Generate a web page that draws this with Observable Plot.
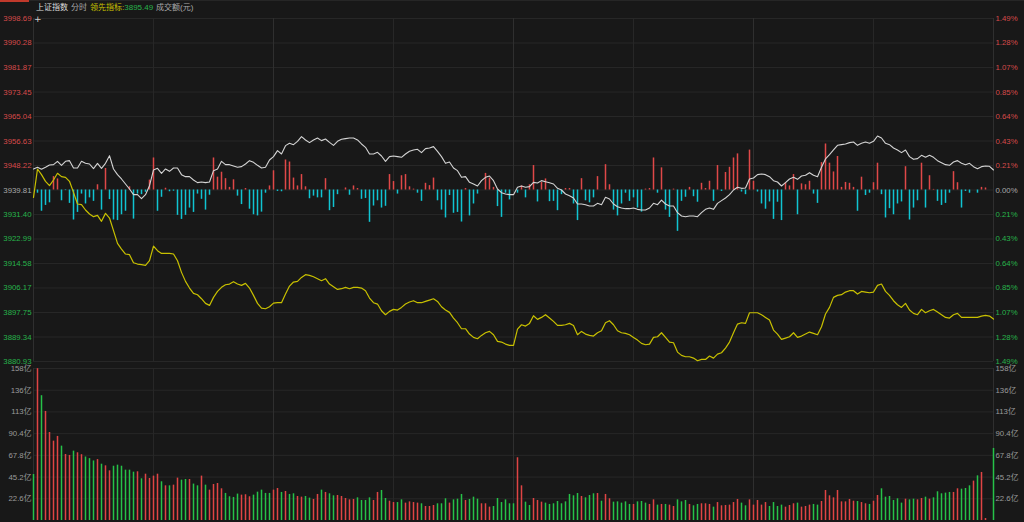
<!DOCTYPE html>
<html><head><meta charset="utf-8">
<script src="https://cdn.jsdelivr.net/npm/d3@7"></script>
<script src="https://cdn.jsdelivr.net/npm/@observablehq/plot@0.6"></script>
<style>
html,body{margin:0;padding:0;background:#181818;}
#root{position:relative;width:1024px;height:522px;overflow:hidden;background:#181818;font-family:"Liberation Sans",Arial,"Noto Sans CJK SC",sans-serif;}
#hdr span{position:absolute;top:3px;font-size:8px;line-height:10px;white-space:nowrap;}
#up{position:absolute;left:0;top:0;}
#down{position:absolute;left:0;top:362px;}
#up svg,#down svg{display:block;overflow:visible;}
</style></head><body>
<div id="root">
<div style="position:absolute;left:0;top:0;width:29px;height:2px;background:#c0392b"></div>
<div style="position:absolute;left:29px;top:0;width:995px;height:1px;background:#262626"></div>
<div id="hdr">
<span style="left:36px;color:#dcdcdc">上证指数</span>
<span style="left:71px;color:#a8a8a8">分时</span>
<span style="left:90px;color:#c8c000">领先指标:<span style="position:static;color:#27b34b">3895.49</span></span>
<span style="left:156px;color:#a8a8a8">成交额(元)</span>
</div>
<div id="up"></div>
<div id="down"></div>
<div style="position:absolute;left:34px;top:14px;font-size:9px;color:#d0d0d0;font-family:'DejaVu Sans',sans-serif">+</div>
</div>
<script>
// 昨收 (previous close)
const prevClose = 3939.81;
// left price-axis tick labels (bottom -> top)
const priceTicks = [3880.93,3889.34,3897.75,3906.17,3914.58,3922.99,3931.40,3939.81,3948.22,3956.63,3965.04,3973.45,3981.87,3990.28,3998.69];
// right percent-axis tick labels (bottom -> top)
const pctLabels = ["1.49%","1.28%","1.07%","0.85%","0.64%","0.43%","0.21%","0.00%","0.21%","0.43%","0.64%","0.85%","1.07%","1.28%","1.49%"];
// volume-axis ticks (亿)
const volTicks = [22.6,45.2,67.8,90.4,113.0,135.6,158.2];
const volLabels = ["22.6亿","45.2亿","67.8亿","90.4亿","113亿","136亿","158亿"];
// time grid (minute index)
const timeGrid = [0,30,60,90,120,150,180,210,240];

// 上证指数 (white line), per minute
const price = [
3947.02,3947.60,3946.91,3947.60,3948.40,3948.51,3949.66,3948.28,3949.66,3949.89,
3947.37,3947.37,3949.66,3948.97,3948.74,3947.14,3948.97,3947.25,3948.97,3951.60,
3947.02,3945.08,3943.59,3941.87,3940.15,3938.21,3938.21,3936.83,3938.21,3941.30,
3946.68,3947.25,3945.54,3947.02,3946.22,3947.37,3947.37,3945.08,3944.39,3944.39,
3943.25,3942.33,3942.56,3942.33,3942.56,3946.45,3947.02,3949.66,3948.51,3948.51,
3948.05,3947.60,3947.83,3948.74,3949.89,3949.31,3948.28,3947.37,3947.60,3950.12,
3951.26,3953.32,3952.18,3955.04,3955.84,3955.38,3956.53,3958.13,3956.99,3956.07,
3956.99,3957.67,3956.76,3957.33,3956.18,3955.15,3956.53,3957.21,3957.44,3957.67,
3957.67,3956.99,3955.61,3954.47,3952.18,3952.18,3952.75,3951.49,3949.66,3951.26,
3951.49,3951.26,3951.03,3952.18,3953.09,3953.55,3953.78,3952.63,3954.01,3954.24,
3954.70,3953.09,3951.26,3948.97,3949.43,3947.37,3946.45,3944.16,3944.39,3942.44,
3941.87,3941.18,3943.02,3944.16,3944.62,3943.02,3940.15,3938.89,3938.44,3938.21,
3938.21,3940.73,3941.18,3940.73,3940.96,3942.44,3942.21,3943.02,3942.67,3942.33,
3941.87,3940.38,3939.81,3938.44,3937.86,3937.06,3935.00,3935.00,3934.77,3934.31,
3934.31,3935.23,3934.77,3937.29,3936.72,3935.00,3934.08,3933.63,3933.40,3933.40,
3933.63,3933.17,3932.94,3932.94,3933.63,3935.23,3934.77,3936.37,3935.00,3934.31,
3934.31,3932.02,3930.88,3930.65,3930.88,3930.88,3930.65,3932.02,3933.17,3933.63,
3933.17,3935.23,3936.15,3937.06,3938.21,3939.81,3940.73,3940.38,3940.50,3943.59,
3943.93,3945.08,3945.31,3945.08,3944.39,3943.02,3942.56,3941.18,3942.33,3943.59,
3944.16,3943.47,3944.62,3944.85,3945.76,3944.85,3944.39,3947.60,3950.46,3951.95,
3953.55,3955.15,3955.38,3955.61,3956.07,3956.30,3955.15,3955.84,3956.30,3955.84,
3956.53,3958.36,3957.67,3955.84,3955.38,3954.24,3953.55,3952.63,3953.55,3951.26,
3950.34,3950.57,3951.72,3951.03,3951.72,3951.03,3949.89,3949.20,3948.51,3948.28,
3949.43,3949.89,3948.97,3948.51,3948.97,3947.83,3947.14,3947.83,3948.05,3947.94,
3946.68];

// 领先指标 (yellow line), per minute
const lead = [
3937.29,3947.02,3945.08,3942.79,3941.30,3943.25,3945.54,3944.39,3944.16,3942.79,
3939.01,3935.00,3934.77,3932.94,3931.57,3930.65,3931.11,3929.05,3931.79,3930.19,
3925.84,3921.49,3919.54,3917.83,3917.60,3914.85,3914.39,3914.16,3913.93,3915.54,
3920.57,3918.97,3918.05,3918.05,3918.05,3917.83,3915.54,3911.53,3908.44,3906.15,
3904.31,3903.86,3902.48,3900.88,3900.19,3902.94,3905.00,3906.38,3907.29,3907.52,
3908.32,3907.52,3907.06,3907.75,3906.15,3903.63,3900.88,3899.28,3899.05,3899.73,
3900.99,3901.11,3901.11,3904.09,3906.83,3908.21,3908.44,3909.81,3910.73,3910.50,
3910.04,3909.35,3908.67,3909.35,3907.52,3906.60,3905.69,3905.92,3906.38,3905.92,
3906.38,3906.38,3906.15,3905.23,3902.71,3901.11,3900.65,3898.36,3896.99,3898.13,
3898.82,3898.59,3899.51,3900.65,3901.34,3901.80,3901.11,3901.11,3901.57,3902.02,
3902.48,3901.57,3899.73,3898.59,3897.79,3895.84,3894.24,3892.18,3892.18,3890.35,
3889.20,3888.74,3889.89,3890.80,3891.26,3890.12,3887.83,3887.60,3886.91,3886.45,
3886.45,3892.06,3893.55,3893.09,3894.01,3896.64,3895.38,3896.07,3896.99,3895.84,
3894.70,3893.32,3893.32,3893.55,3894.01,3893.32,3890.12,3891.26,3890.35,3889.89,
3889.66,3890.80,3891.49,3894.24,3894.93,3893.55,3891.49,3890.80,3890.57,3890.12,
3889.20,3888.28,3887.14,3886.68,3886.91,3889.20,3889.43,3890.80,3889.20,3887.60,
3887.37,3884.16,3883.02,3882.56,3882.56,3882.10,3881.19,3881.64,3881.64,3882.79,
3882.10,3883.48,3883.93,3885.54,3887.60,3890.80,3893.78,3894.24,3894.01,3897.67,
3897.67,3897.67,3896.99,3896.07,3895.15,3891.72,3890.35,3888.51,3888.97,3889.43,
3890.80,3889.20,3889.66,3890.35,3891.03,3890.57,3890.12,3892.86,3897.22,3899.51,
3902.94,3903.63,3903.86,3904.77,3905.23,3905.23,3904.09,3905.00,3904.77,3904.54,
3904.77,3907.06,3907.52,3905.00,3903.63,3901.80,3900.42,3899.51,3900.88,3898.59,
3897.44,3896.99,3898.82,3897.67,3898.36,3898.82,3897.90,3896.99,3896.07,3895.84,
3896.99,3897.44,3896.07,3896.07,3896.07,3896.07,3896.07,3896.53,3896.76,3896.53,
3895.49];

// 多空强弱 bars around previous close (points), per minute
const strength = [
0,-1.1,-7.3,-5.3,-4.4,4.6,3.8,-3.7,-0.2,-4.6,
-10.3,-7.7,-1.4,-4.8,-2.7,-3.9,1.8,-6.9,7.4,-3.3,
-10.3,-10.5,-8.5,-7.3,1.1,-10,-1.4,-1.6,-0.8,3.4,
11,-7.3,-2.5,0.6,-0.6,-0.4,-8.7,-10.1,-8.7,-6.2,
-7.7,-1.4,-3.2,-6.9,-1.8,11,4.4,6.1,3.9,0.9,
3.5,-2.1,-5,0.5,-6.6,-8.5,-8.9,-7.6,-1.1,1.4,
6.6,-0.5,-0.6,10.3,9.6,4.1,1.4,5.3,1.1,-3,
-2.1,-2.7,-2.7,3.9,-7.1,-6,-1.6,0,0.7,-1.8,
1.4,0.5,-3.2,-2.9,-11.1,-5.5,-3.7,-6.2,-5.6,5.3,
2.9,-1.4,4.9,5.3,1.1,0.3,-1.1,-3.9,2.3,1.5,
4.1,-3.7,-6.9,-9.6,-1.9,-8,-7.7,-11,0.5,-8.9,
-4.8,-1.4,0,5.7,4.1,0.9,-5.7,-9.4,-1.1,-3.4,
0,-1.1,1.4,-2.7,1.8,8.4,-4.1,2.6,3.8,-4,
-3.9,-7.1,-1.6,0.5,0.5,-4.8,-10.5,3.9,-3.7,-4.4,
-2.7,4.6,0,8.7,1.8,-6.9,-8.9,-4.8,-1.1,-3.9,
-2.7,-6.2,-7.6,0.3,0.5,11,-1.1,7.6,-6.9,-9.4,
0.3,-14.2,-3.9,-2.5,0.9,-2.3,-4.2,2.3,0.5,3,
-3.9,8.4,-0.5,6,7.8,11,12.4,-0.7,-1.6,13.7,
3,-0.7,-4.8,-6.6,-4.1,-10.1,-4.2,-10.5,2.5,1.4,
5.3,-8.5,2.1,1.8,3,-1.4,-4.6,9.4,15.8,9.2,
6.2,11.5,0.9,2.6,2.3,0.9,-7.3,4.4,-1.9,-1.1,
2.5,9.2,-1.6,-9.6,-6.4,-8.5,-4.8,-4.1,8,-10.3,
-6.2,-3.7,9.2,-6.2,4.9,0.2,-3.9,-5.3,-4.6,-1.1,
6.3,2.5,-6.2,-0.5,-1.1,0,-1.1,0.9,0.7,0,
0];

// 成交额 (亿), per minute
const volume = [
47.9,158,129.9,113.5,91.6,82.6,87.5,77.4,68.7,67.7,
72.2,70.5,68.5,66.1,64.4,62,63.4,58.6,56.9,51.7,
56.5,57.6,56.5,52.4,52.4,50.3,50.7,43.4,48.2,43.7,
46.2,48.2,40.3,36.1,36.1,36.8,44.1,42,42.7,42.7,
37.9,36.1,46.2,36.8,31.6,37.5,38.5,33,28.2,24.7,
24,27.5,26.4,26.8,24.7,26.4,29.5,31.6,28.2,28.2,
31.6,33.3,29.2,30.2,27.1,27.8,25,24.3,25,23.3,
21.9,27.1,31.6,29.2,27.8,25.7,26,25,22.9,21.5,
21.9,23.6,20.8,20.8,23.6,20.8,29.2,31.2,22.9,20.1,
18.7,18.7,21.5,18.1,19.4,18.7,18.1,17.4,14.6,14.6,
15.6,17.4,17.4,22.6,18.1,21.5,22.2,27.1,20.8,21.9,
24.3,22.2,17.4,17.4,13.9,14.6,22.9,18.7,21.5,17.4,
17.4,65.3,36.1,19.1,15.6,22.9,20.8,19.1,18.1,16.7,
17.4,19.8,17.4,19.4,27.1,25.7,28.1,25,23.6,26,
27.8,28.1,20.1,27.1,22.6,19.1,19.4,18.1,19.4,16.7,
16.7,19.4,19.8,18.1,16.7,21.5,16,16.7,16.7,16,
14.6,21.5,19.4,20.8,16.7,15.3,16.7,17.4,17.4,16.7,
13.9,18.7,15.3,15.6,16,18.7,21.9,18.1,15.3,21.5,
16,20.8,16,18.7,14.6,18.7,14.6,16,13.9,15.6,
17.4,18.1,13.9,14.6,16,16.7,16,19.8,31.2,25.7,
23.6,31.2,19.4,19.4,21.9,20.1,19.8,18.7,17.4,16.7,
20.1,26,33,24.3,25,20.8,22.6,18.1,22.2,21.5,
22.2,21.5,22.9,24.3,22.2,23.6,29.9,27.8,28.5,29.2,
29.2,33,32.6,33.3,36.1,41,46.5,50,2.1,0,
75];

// up (r) / down (g) per minute
const volumeDir = (
"grgrrrrgrr"+"grrgggrgrr"+"ggggggrgrr"+"rrgrgrrggr"+"ggrgrrrrgg"+
"ggrrrggggg"+"rrgrggrrgg"+"rrgrggrrrr"+"rggggrrggr"+"rggrrrrgrr"+
"rgggrgggrg"+"ggrrrggggg"+"grrggrrrgg"+"gggggggrgg"+"grgrrggggg"+
"rgggrrgrgr"+"rgggrggrrr"+"grrrrrrggr"+"rrrrggggrr"+"rgrrrggrrr"+
"rrrrrrgrrg"+"rrggggggrg"+"grrgrggggg"+"rrgggrgrrg"+"g").split("");

const RED = "#e04444", GREEN = "#26c248", CYAN = "#10c4d2", UPRED = "#e04848";
const GRID = "#272727", GRID_H = "#2f2f2f";
const AX_RED = "#d64a4a", AX_GREEN = "#27b34b", AX_GREY = "#a8a8a8";

const rows = price.map((p, i) => ({
  i, price: p, lead: lead[i], s: strength[i], vol: volume[i], dir: volumeDir[i]
}));

const above = priceTicks.filter(v => v > prevClose + 0.001);
const below = priceTicks.filter(v => v < prevClose - 0.001);
const equal = priceTicks.filter(v => Math.abs(v - prevClose) <= 0.001);
const pctOf = v => pctLabels[priceTicks.indexOf(v)];
const fmt = v => v.toFixed(2);
const FONT = '"Liberation Sans", Arial, "Noto Sans CJK SC", sans-serif';

const upper = Plot.plot({
  width: 1024, height: 369,
  marginTop: 18, marginBottom: 8, marginLeft: 33, marginRight: 31,
  x: {domain: [0, 240], axis: null},
  y: {domain: [priceTicks[0], priceTicks[priceTicks.length - 1]], axis: null, label: null},
  style: {background: "transparent", fontFamily: FONT, fontSize: "7.8px"},
  marks: [
    Plot.ruleY(priceTicks, {stroke: GRID}),
    Plot.ruleX(timeGrid, {stroke: d => d % 60 === 0 ? GRID_H : GRID}),
    Plot.ruleX(rows.filter(d => d.s !== 0), {
      x: "i", y1: () => prevClose, y2: d => prevClose + d.s,
      stroke: d => d.s > 0 ? UPRED : CYAN, strokeWidth: 1.5
    }),
    Plot.line(rows, {x: "i", y: "lead", stroke: "#c8c000", strokeWidth: 1.2}),
    Plot.line(rows, {x: "i", y: "price", stroke: "#d4d4d4", strokeWidth: 1.1}),
    Plot.axisY(above, {anchor: "left", tickSize: 0, tickPadding: 2, color: AX_RED, tickFormat: fmt, label: null}),
    Plot.axisY(equal, {anchor: "left", tickSize: 0, tickPadding: 2, color: AX_GREY, tickFormat: fmt, label: null}),
    Plot.axisY(below, {anchor: "left", tickSize: 0, tickPadding: 2, color: AX_GREEN, tickFormat: fmt, label: null}),
    Plot.axisY(above, {anchor: "right", tickSize: 0, tickPadding: 2, color: AX_RED, tickFormat: pctOf, label: null}),
    Plot.axisY(equal, {anchor: "right", tickSize: 0, tickPadding: 2, color: AX_GREY, tickFormat: pctOf, label: null}),
    Plot.axisY(below, {anchor: "right", tickSize: 0, tickPadding: 2, color: AX_GREEN, tickFormat: pctOf, label: null})
  ]
});
document.getElementById("up").appendChild(upper);

const volFmt = v => volLabels[volTicks.indexOf(v)];
const lower = Plot.plot({
  width: 1024, height: 160,
  marginTop: 6, marginBottom: 2, marginLeft: 33, marginRight: 31,
  x: {domain: [0, 240], axis: null},
  y: {domain: [0, volTicks[volTicks.length - 1]], axis: null, label: null},
  style: {background: "transparent", fontFamily: FONT, fontSize: "7.8px"},
  marks: [
    Plot.ruleY(volTicks, {stroke: GRID}),
    Plot.ruleX(timeGrid, {stroke: d => d % 60 === 0 ? GRID_H : GRID}),
    Plot.ruleX(rows.filter(d => d.vol > 0), {
      x: "i", y1: 0, y2: "vol",
      stroke: d => d.dir === "r" ? RED : GREEN, strokeWidth: 1.5
    }),
    Plot.axisY(volTicks, {anchor: "left", tickSize: 0, tickPadding: 2, color: "#9a9a9a", tickFormat: volFmt, label: null}),
    Plot.axisY(volTicks, {anchor: "right", tickSize: 0, tickPadding: 2, color: "#9a9a9a", tickFormat: volFmt, label: null})
  ]
});
document.getElementById("down").appendChild(lower);
</script>
</body></html>
